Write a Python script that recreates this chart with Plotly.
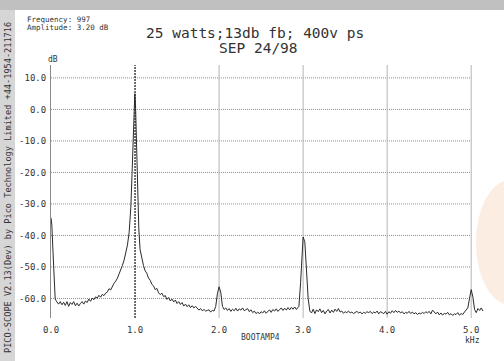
import plotly.graph_objects as go

# ---- data ----
freq_khz = [0.0, 0.01, 0.02, 0.03, 0.04, 0.05, 0.07, 0.09, 0.11, 0.13, 0.15, 0.17, 0.19, 0.21, 0.23, 0.25,
            0.27, 0.29, 0.31, 0.33, 0.35, 0.37, 0.39, 0.41, 0.43, 0.45, 0.47, 0.49, 0.51, 0.53, 0.55, 0.57,
            0.59, 0.61, 0.63, 0.65, 0.67, 0.69, 0.71, 0.73, 0.75, 0.77, 0.79, 0.81, 0.83, 0.85, 0.87, 0.89,
            0.91, 0.93, 0.95, 0.965, 0.98, 0.99, 0.997, 1.005, 1.015, 1.03, 1.045, 1.06, 1.08, 1.10, 1.12,
            1.14, 1.16, 1.18, 1.20, 1.22, 1.24, 1.26, 1.28, 1.30, 1.32, 1.34, 1.36, 1.38, 1.40, 1.42, 1.44,
            1.46, 1.48, 1.50, 1.52, 1.54, 1.56, 1.58, 1.60, 1.62, 1.64, 1.66, 1.68, 1.70, 1.72, 1.74, 1.76,
            1.78, 1.80, 1.82, 1.84, 1.86, 1.88, 1.90, 1.92, 1.94, 1.96, 1.98, 2.00, 2.02, 2.04, 2.06, 2.08,
            2.10, 2.12, 2.14, 2.16, 2.18, 2.20, 2.22, 2.24, 2.26, 2.28, 2.30, 2.32, 2.34, 2.36, 2.38, 2.40,
            2.42, 2.44, 2.46, 2.48, 2.50, 2.52, 2.54, 2.56, 2.58, 2.60, 2.62, 2.64, 2.66, 2.68, 2.70, 2.72,
            2.74, 2.76, 2.78, 2.80, 2.82, 2.84, 2.86, 2.88, 2.90, 2.92, 2.95, 2.97, 2.99, 3.00, 3.02, 3.04,
            3.06, 3.08, 3.10, 3.12, 3.14, 3.16, 3.18, 3.20, 3.22, 3.24, 3.26, 3.28, 3.30, 3.32, 3.34, 3.36,
            3.38, 3.40, 3.42, 3.44, 3.46, 3.48, 3.50, 3.52, 3.54, 3.56, 3.58, 3.60, 3.62, 3.64, 3.66, 3.68,
            3.70, 3.72, 3.74, 3.76, 3.78, 3.80, 3.82, 3.84, 3.86, 3.88, 3.90, 3.92, 3.94, 3.96, 3.98, 4.00,
            4.02, 4.04, 4.06, 4.08, 4.10, 4.12, 4.14, 4.16, 4.18, 4.20, 4.22, 4.24, 4.26, 4.28, 4.30, 4.32,
            4.34, 4.36, 4.38, 4.40, 4.42, 4.44, 4.46, 4.48, 4.50, 4.52, 4.54, 4.56, 4.58, 4.60, 4.62, 4.64,
            4.66, 4.68, 4.70, 4.72, 4.74, 4.76, 4.78, 4.80, 4.82, 4.84, 4.86, 4.88, 4.90, 4.92, 4.94, 4.96,
            4.98, 5.00, 5.02, 5.04, 5.06, 5.08, 5.10, 5.12, 5.14]
level_db = [-34.4, -36.7, -43.0, -51.0, -57.0, -60.2, -61.1, -61.8, -61.0, -62.0, -61.2, -62.2, -61.0, -62.5, -61.3, -61.9,
            -61.0, -62.3, -61.5, -62.4, -61.6, -61.0, -61.8, -60.8, -61.3, -60.2, -60.9, -59.9, -60.4, -59.5, -59.9, -59.0,
            -59.6, -58.7, -59.1, -58.3, -58.0, -56.9, -57.3, -56.0, -55.2, -54.5, -53.6, -52.2, -51.0, -49.5, -47.8, -45.5,
            -43.0, -39.0, -31.0, -20.0, -5.0, 2.0, 5.0, 2.0, -8.0, -25.0, -38.0, -44.5, -47.5, -49.5, -51.2,
            -52.0, -53.5, -54.2, -55.5, -56.0, -57.2, -56.8, -58.2, -58.8, -58.3, -59.4, -59.1, -60.3, -59.7, -60.8, -60.2,
            -61.1, -60.5, -61.6, -61.0, -61.9, -61.3, -62.4, -61.8, -62.6, -62.0, -62.9, -62.3, -63.0, -62.5, -63.3, -63.7,
            -63.2, -63.9, -63.5, -64.0, -63.8, -63.6, -64.3, -63.8, -64.0, -62.5, -58.5, -56.3, -58.0, -62.5, -63.5, -63.0,
            -63.8, -63.2, -64.1, -63.4, -63.9, -63.1, -64.0, -63.3, -63.7, -63.0, -63.9, -63.5, -63.2, -64.2, -63.6, -64.5,
            -64.0, -64.8, -64.3, -64.9, -64.2, -64.6, -63.9, -64.7, -64.1, -63.6, -64.4, -63.5, -64.0, -63.3, -64.1, -63.6,
            -63.0, -63.8, -63.1, -63.7, -62.9, -63.6, -62.8, -63.4, -62.7, -63.5, -62.5, -55.0, -43.0, -40.5, -42.0, -50.0,
            -60.0, -64.0, -64.6, -63.4, -64.8, -63.6, -64.2, -63.3, -64.5, -63.8, -64.9, -64.0, -63.5, -64.6, -63.7, -64.4,
            -63.4, -64.1, -63.2, -64.3, -64.0, -64.7, -64.2, -64.5, -64.0, -64.6, -64.3, -64.8, -64.4, -64.1, -64.6, -64.3,
            -64.9, -64.4, -64.7, -64.2, -64.5, -64.1, -64.8, -64.3, -64.6, -64.0, -64.9, -64.2, -64.5, -64.8, -64.1, -65.0,
            -64.2, -64.7, -63.9, -64.5, -63.8, -64.4, -64.0, -64.6, -64.2, -64.9, -64.4, -64.7, -64.1, -64.8, -64.3, -64.9,
            -64.5, -65.1, -64.6, -64.9, -64.4, -64.8, -64.2, -64.6, -64.1, -64.9, -63.7, -64.5, -64.9, -64.3, -65.2, -64.6,
            -65.3, -64.7, -65.0, -64.4, -65.2, -64.8, -65.4, -64.9, -65.1, -64.5, -65.3, -64.8, -65.1, -64.3, -63.6, -63.0,
            -60.0, -57.2, -59.5, -63.5, -64.5, -63.2, -63.8, -63.0, -64.0]

x_ticks = [0, 1, 2, 3, 4, 5]
x_labels = ["0.0", "1.0", "2.0", "3.0", "4.0", "5.0"]
y_ticks = [-60, -50, -40, -30, -20, -10, 0, 10]
y_labels = ["-60.0", "-50.0", "-40.0", "-30.0", "-20.0", "-10.0", "0.0", "10.0"]
cursor_khz = 1.0

title_line1 = "25 watts;13db fb; 400v ps"
title_line2 = "SEP 24/98"
readout = ["Frequency: 997", "Amplitude: 3.20 dB"]
side_text = "PICO-SCOPE V2.13(Dev) by Pico Technology Limited +44-1954-211716"
x_name = "BOOTAMP4"

# ---- layout geometry ----
W, H = 504, 361
L, R, T, B = 51, 16, 65, 43
X_RANGE = [0, 5.2]
Y_RANGE = [-66.2, 14.1]
MONO = "DejaVu Sans Mono"

def px(xp):
    return (xp - L) / (W - L - R)

def py(yp):
    return (H - B - yp) / (H - T - B)

def label(text, x, y, size, color="#333", angle=0, xanchor="center"):
    return dict(text=text, xref="paper", yref="paper", x=px(x), y=py(y), showarrow=False,
                xanchor=xanchor, yanchor="middle", textangle=angle,
                font=dict(family=MONO, size=size, color=color))

fig = go.Figure()
fig.add_trace(go.Scatter(x=freq_khz, y=level_db, mode="lines",
                         line=dict(color="#2a2a2a", width=1), hoverinfo="skip"))

shapes = []
# scanned border strips
shapes.append(dict(type="rect", xref="paper", yref="paper", x0=px(0), x1=px(W), y0=py(0), y1=py(10),
                   fillcolor="#c0c0c0", line=dict(width=0), layer="below"))
shapes.append(dict(type="rect", xref="paper", yref="paper", x0=px(0), x1=px(15), y0=py(10), y1=py(H),
                   fillcolor="#d6d6d6", line=dict(width=0), layer="below"))
# faint orange scan smudge at right edge
shapes.append(dict(type="circle", xref="paper", yref="paper", x0=px(476), x1=px(545), y0=py(305), y1=py(180),
                   fillcolor="rgba(246,196,160,0.30)", line=dict(width=0), layer="below"))
# horizontal grid
for yv in y_ticks:
    shapes.append(dict(type="line", xref="x", yref="y", x0=0, x1=x_ticks[-1], y0=yv, y1=yv,
                       line=dict(color="#8f8f8f", width=1, dash="1px,1px"), layer="below"))
# vertical grid
for xv in x_ticks[1:]:
    if xv == cursor_khz:
        continue
    shapes.append(dict(type="line", xref="x", yref="y", x0=xv, x1=xv, y0=Y_RANGE[0], y1=Y_RANGE[1],
                       line=dict(color="#b4b4b4", width=1), layer="below"))
# cursor
shapes.append(dict(type="line", xref="x", yref="y", x0=cursor_khz, x1=cursor_khz, y0=Y_RANGE[0], y1=Y_RANGE[1],
                   line=dict(color="#222222", width=1.3, dash="2px,1px"), layer="below"))

annotations = [
    label(title_line1, 255, 32.5, 14.5),
    label(title_line2, 258, 48, 14.5),
    label(readout[0], 25, 19.5, 7.5, xanchor="left"),
    label(readout[1], 25, 27.5, 7.5, xanchor="left"),
    label(side_text, 8, 188, 8.6, angle=-90),
    label("dB", 53, 60, 8),
    label(x_name, 260, 337, 8),
    label("kHz", 472, 340, 8),
]

fig.update_layout(
    width=W, height=H, margin=dict(l=L, r=R, t=T, b=B, autoexpand=False),
    paper_bgcolor="white", plot_bgcolor="rgba(0,0,0,0)",
    showlegend=False, shapes=shapes, annotations=annotations,
    xaxis=dict(range=X_RANGE, showgrid=False, zeroline=False, showline=False, automargin=False,
               tickvals=x_ticks, ticktext=x_labels, ticks="", ticklabelstandoff=5,
               tickfont=dict(family=MONO, size=9, color="#333")),
    yaxis=dict(range=Y_RANGE, showgrid=False, zeroline=False, showline=True, automargin=False,
               linecolor="#8a8a8a", linewidth=1,
               tickvals=y_ticks, ticktext=y_labels, ticks="", ticklabelstandoff=2,
               tickfont=dict(family=MONO, size=9, color="#333")),
)

fig.write_html("out.html", config={"displayModeBar": False},
               post_script="document.body.style.margin='0';")
